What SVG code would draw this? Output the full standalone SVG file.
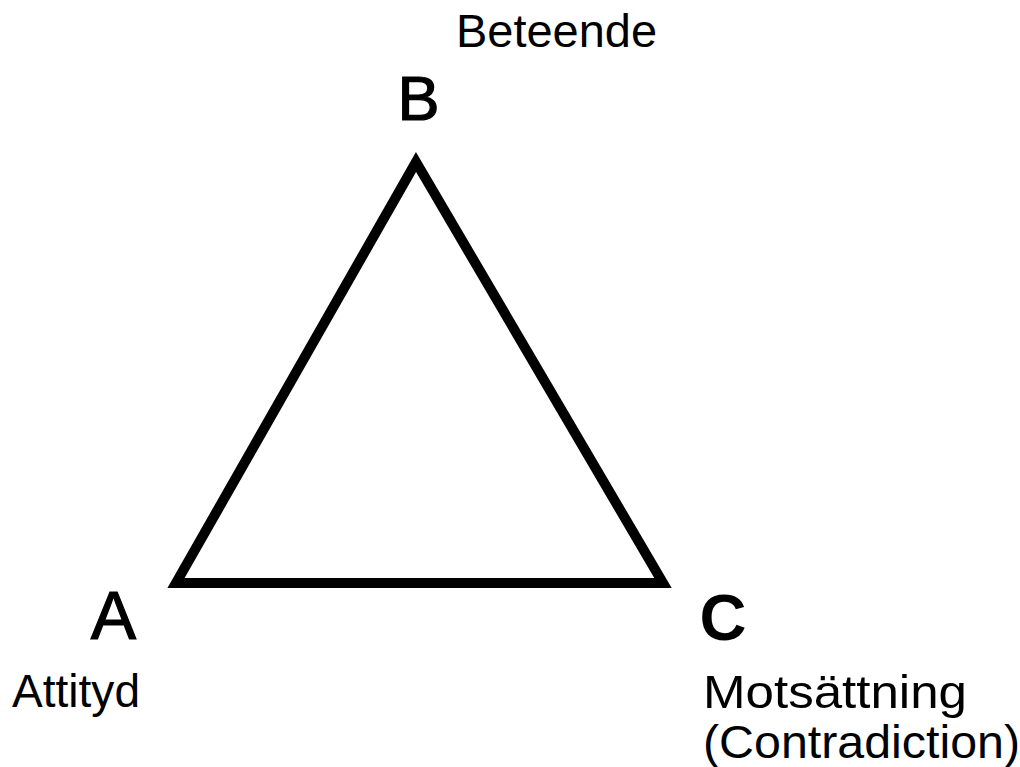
<svg xmlns="http://www.w3.org/2000/svg" width="1020" height="767" viewBox="0 0 1020 767">
<style>
.lbl{font-family:"Liberation Sans",Arial,sans-serif;font-size:46px;fill:#000}
.vx{font-family:"Liberation Sans",Arial,sans-serif;fill:#000;stroke:#000;stroke-width:1.2}
.vb{font-family:"Liberation Sans",Arial,sans-serif;font-weight:bold;fill:#000}
</style>
<rect width="1020" height="767" fill="#fff"/>
<g id="connectors">
<polygon points="416,162 176,583 663,583" fill="none" stroke="#000" stroke-width="10" stroke-linejoin="miter"/>
</g>
<g id="node-B">
<text class="vx" x="418.5" y="120" font-size="63" text-anchor="middle">B</text>
<text class="lbl" x="456" y="47" textLength="201" lengthAdjust="spacingAndGlyphs">Beteende</text>
</g>
<g id="node-A">
<text class="vx" x="113.5" y="639" font-size="68" text-anchor="middle">A</text>
<text class="lbl" x="12" y="707" textLength="128" lengthAdjust="spacingAndGlyphs">Attityd</text>
</g>
<g id="node-C">
<text class="vb" x="723" y="640" font-size="65" text-anchor="middle">C</text>
<text class="lbl" x="703" y="708" textLength="264" lengthAdjust="spacingAndGlyphs">Motsättning</text>
<text class="lbl" x="703" y="758" textLength="317" lengthAdjust="spacingAndGlyphs">(Contradiction)</text>
</g>
</svg>
